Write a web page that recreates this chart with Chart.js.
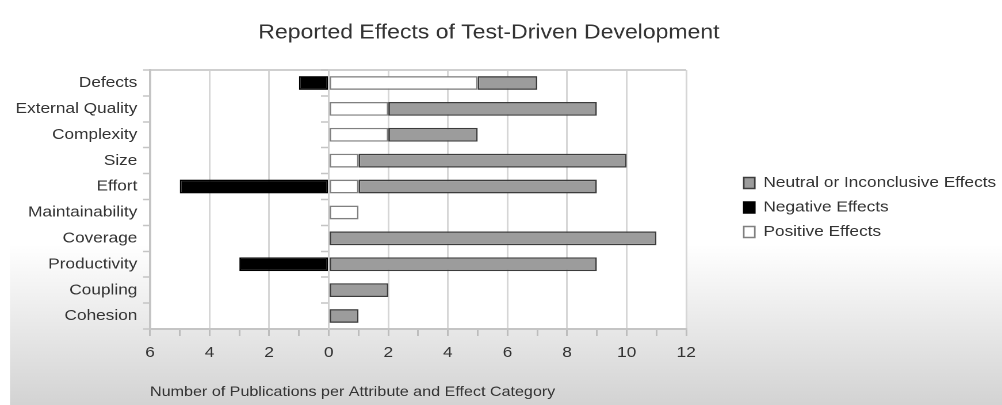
<!DOCTYPE html>
<html><head><meta charset="utf-8">
<script src="https://cdn.jsdelivr.net/npm/chart.js@4/dist/chart.umd.min.js"></script>
<style>
html,body{margin:0;padding:0;background:#fff;overflow:hidden}
#c{display:block;transform:scaleX(1.1504);transform-origin:0 0}
</style></head><body>
<canvas id="c" width="871" height="405"></canvas>
<script>
const categories = ['Defects','External Quality','Complexity','Size','Effort','Maintainability','Coverage','Productivity','Coupling','Cohesion'];
const neutralEffects  = [2, 7, 3, 9, 8, 0, 11, 9, 2, 1];
const negativeEffects = [1, 0, 0, 0, 5, 0, 0, 3, 0, 0];
const positiveEffects = [5, 2, 2, 1, 1, 1, 0, 0, 0, 0];
const seriesNames = ['Neutral or Inconclusive Effects', 'Negative Effects', 'Positive Effects'];
const chartTitle = 'Reported Effects of Test-Driven Development';
const axisTitle = 'Number of Publications per Attribute and Effect Category';
const axisMin = -6, axisMax = 12;

const FONT = "'Liberation Sans', Arial, Helvetica, sans-serif";
const TXT = '#333333';

const backdrop = {
  id: 'backdrop',
  beforeDraw(chart) {
    const {ctx, chartArea: a, width, height} = chart;
    ctx.save();
    ctx.fillStyle = '#fff';
    ctx.fillRect(0, 0, width, height);
    const g = ctx.createLinearGradient(0, 245, 0, height);
    g.addColorStop(0, '#ffffff');
    g.addColorStop(1, '#d3d3d3');
    ctx.fillStyle = g;
    ctx.fillRect(8.7, 245, width - 8.7, height - 245);
    ctx.fillStyle = '#fff';
    ctx.fillRect(a.left, a.top, a.right - a.left, a.bottom - a.top);
    ctx.restore();
  }
};

const layoutTweaks = {
  id: 'layoutTweaks',
  beforeLayout(chart) {
    const lg = chart.legend;
    if (lg && !lg._patched) {
      const f = lg.fit;
      lg.fit = function () { f.call(this); this.width = 274.5; };
      lg._patched = true;
    }
  },
  afterLayout(chart) {
    const lg = chart.legend;
    if (lg) { lg.left += 40.5; lg.top += 5; lg.bottom += 5; }
    const t = chart.titleBlock;
    if (t) { t.left -= 10.5; t.right -= 10.5; }
  }
};

new Chart(document.getElementById('c'), {
  type: 'bar',
  data: {
    labels: categories,
    datasets: [
      { label: seriesNames[2], data: positiveEffects.map(v => v || null), backgroundColor: '#ffffff', borderColor: '#808080' },
      { label: seriesNames[1], data: negativeEffects.map(v => v ? -v : null), backgroundColor: '#000000', borderColor: '#000000' },
      { label: seriesNames[0], data: neutralEffects.map(v => v || null), backgroundColor: '#9c9c9c', borderColor: '#3c3c3c' }
    ]
  },
  options: {
    indexAxis: 'y',
    responsive: false,
    devicePixelRatio: 2,
    animation: false,
    layout: { padding: 0 },
    datasets: { bar: { borderWidth: 1.4, borderSkipped: false, barPercentage: 0.53, categoryPercentage: 1, stack: 's' } },
    plugins: {
      title: { display: true, text: chartTitle, color: TXT, font: { size: 20, family: FONT, weight: 'normal' }, padding: { top: 21, bottom: 25 } },
      legend: { position: 'right', reverse: true,
        labels: { color: TXT, font: { size: 15, family: FONT }, boxWidth: 9.6, boxHeight: 11, padding: 9.5 } },
      tooltip: { enabled: false }
    },
    scales: {
      x: {
        type: 'linear', stacked: true, min: axisMin, max: axisMax,
        ticks: { stepSize: 1, autoSkip: false, maxRotation: 0, color: TXT, font: { size: 15, family: FONT }, padding: 8,
          callback: v => (v % 2 === 0 ? String(Math.abs(v)) : '') },
        grid: { color: c => (c.tick && c.tick.value % 2 === 0) ? '#d6d6d6' : 'transparent', lineWidth: 1.5,
          tickColor: '#bdbdbd', tickLength: 7, tickWidth: 1.5 },
        border: { color: '#c4c4c4', width: 2 },
        title: { display: true, text: axisTitle, align: 'start', color: TXT, font: { size: 14, family: FONT }, padding: { top: 13.6, bottom: 4.6 } }
      },
      y: {
        type: 'category', stacked: true, offset: true,
        grid: { offset: true, drawOnChartArea: true, color: c => c.index === 0 ? '#cfcfcf' : 'transparent', lineWidth: 2,
          tickColor: '#c4c4c4', tickLength: 6, tickWidth: 1.5 },
        border: { color: '#c4c4c4', width: 2 },
        ticks: { color: TXT, font: { size: 15, family: FONT }, padding: 5 },
        afterFit: s => { s.width = 130.4; }
      },
      y2: {
        type: 'category', position: { x: 0 }, offset: true,
        grid: { offset: true, drawOnChartArea: false, tickColor: '#c4c4c4', tickLength: 6, tickWidth: 1.5 },
        border: { color: '#d0d0d0', width: 1.5 },
        ticks: { display: false }
      }
    }
  },
  plugins: [backdrop, layoutTweaks]
});
</script>
</body></html>
